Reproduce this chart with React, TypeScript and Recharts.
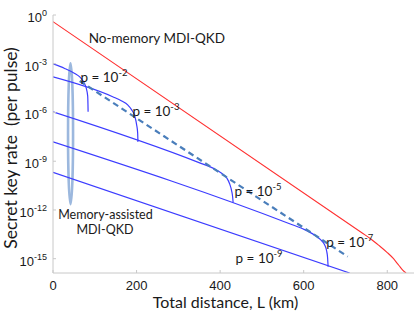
import React from 'react';
import { LineChart, Line, XAxis, YAxis, ReferenceDot, ReferenceArea, Label } from 'recharts';

// x: total distance L (km), y: log10 of secret key rate (per pulse)
const xTicks = [0, 200, 400, 600, 800];
const yTicks = [0, -3, -6, -9, -12, -15];

const noMemory = [
  { x: 0, y: -0.41 },
  { x: 740, y: -13.42 },
  { x: 760, y: -13.77 },
  { x: 780, y: -14.18 },
  { x: 800, y: -14.62 },
  { x: 815, y: -15.0 },
  { x: 828, y: -15.42 },
  { x: 837, y: -15.7 },
  { x: 845, y: -15.88 },
];

const p2 = [
  { x: 0, y: -3.01 },
  { x: 28, y: -3.29 },
  { x: 52, y: -3.6 },
  { x: 64, y: -3.81 },
  { x: 73.4, y: -4.12 },
  { x: 79.4, y: -4.49 },
  { x: 83, y: -4.98 },
  { x: 83.7, y: -5.53 },
  { x: 84, y: -5.96 },
];

const p3 = [
  { x: 0, y: -3.81 },
  { x: 142.8, y: -5.03 },
  { x: 164.4, y: -5.29 },
  { x: 178.7, y: -5.53 },
  { x: 188.3, y: -5.84 },
  { x: 195.5, y: -6.21 },
  { x: 200.2, y: -6.76 },
  { x: 202.6, y: -7.25 },
  { x: 203.3, y: -7.81 },
];

const p5 = [
  { x: 0, y: -5.96 },
  { x: 351, y: -9.1 },
  { x: 386.8, y: -9.47 },
  { x: 403.6, y: -9.74 },
  { x: 415.6, y: -10.02 },
  { x: 422.7, y: -10.39 },
  { x: 427.5, y: -10.82 },
  { x: 429.9, y: -11.19 },
  { x: 431.1, y: -11.55 },
];

const p7 = [
  { x: 0, y: -7.81 },
  { x: 566.3, y: -12.85 },
  { x: 602.2, y: -13.21 },
  { x: 626.1, y: -13.55 },
  { x: 640.4, y: -13.83 },
  { x: 650, y: -14.14 },
  { x: 654.8, y: -14.51 },
  { x: 657.2, y: -14.94 },
  { x: 658.4, y: -15.49 },
];

const p9 = [
  { x: 0, y: -9.68 },
  { x: 710, y: -15.88 },
];

const envelope = [
  { x: 63.9, y: -4.06 },
  { x: 705.3, y: -14.87 },
];

// memory-assisted marker ellipse (x range km, y range log10)
const markerX = [36, 48];
const markerY = [-11.65, -2.98];

// annotation texts: [x km, y log10, text, superscript]
const notes: [number, number, string, string][] = [
  [85.4, -1.72, 'No-memory MDI-QKD', ''],
  [65.6, -4.1, 'p = 10', '-2'],
  [190, -6.24, 'p = 10', '-3'],
  [434.2, -11.15, 'p = 10', '-5'],
  [654, -14.3, 'p = 10', '-7'],
  [437, -15.24, 'p = 10', '-9'],
];
const centeredNotes: [number, number, string][] = [
  [125.6, -12.57, 'Memory-assisted'],
  [124.5, -13.46, 'MDI-QKD'],
];

const ANNOT_FONT = 'Lato, "Open Sans", sans-serif';
const TICK_FONT = '"Liberation Sans", Arial, sans-serif';
const BLUE = '#3c3cff';

const YTick = (props: any) => {
  const { x, y, payload } = props;
  return (
    <text x={x} y={y + 7} textAnchor="end" fontFamily={TICK_FONT} fontSize={13} fill="#1a1a1a">
      <tspan>10</tspan>
      <tspan dy={-6} fontSize={9}>{String(payload.value)}</tspan>
    </text>
  );
};

const XTick = (props: any) => {
  const { x, y, payload } = props;
  return (
    <text x={x} y={y + 9.5} textAnchor="middle" fontFamily={TICK_FONT} fontSize={13} fill="#1a1a1a">
      {payload.value}
    </text>
  );
};

export default function App() {
  return (
    <div style={{ position: 'absolute', left: 0, top: 0 }}>
      <LineChart width={414} height={315} margin={{ top: 15, right: 0, bottom: 0, left: 0 }}>
        <XAxis
          type="number"
          dataKey="x"
          domain={[0, 864]}
          ticks={xTicks}
          stroke="#c8c8c8"
          tickSize={-3}
          tickMargin={10}
          tick={<XTick />}
          height={42}
          allowDataOverflow
        >
          <Label
            content={(p: any) => {
              const vb = p.viewBox;
              return (
                <text
                  x={vb.x + vb.width / 2 - 8}
                  y={vb.y + 35}
                  textAnchor="middle"
                  fontFamily={ANNOT_FONT}
                  fontSize={16}
                  fill="#1a1a1a"
                >
                  Total distance, L (km)
                </text>
              );
            }}
          />
        </XAxis>
        <YAxis
          type="number"
          domain={[-15.88, 0]}
          ticks={yTicks}
          stroke="#c8c8c8"
          tickSize={-3}
          tickMargin={9}
          tick={<YTick />}
          width={53}
          allowDataOverflow
        >
          <Label
            content={(p: any) => {
              const vb = p.viewBox;
              const cx = vb.x + 17;
              const cy = vb.y + vb.height / 2 + 4;
              return (
                <text
                  x={cx}
                  y={cy}
                  transform={`rotate(-90, ${cx}, ${cy})`}
                  textAnchor="middle"
                  fontFamily={ANNOT_FONT}
                  fontSize={17.5}
                  fill="#1a1a1a"
                  style={{ whiteSpace: 'pre' }}
                >
                  {'Secret key rate  (per pulse)'}
                </text>
              );
            }}
          />
        </YAxis>
        <ReferenceArea
          x1={markerX[0]}
          x2={markerX[1]}
          y1={markerY[0]}
          y2={markerY[1]}
          shape={(p: any) => (
            <ellipse
              cx={p.x + p.width / 2}
              cy={p.y + p.height / 2}
              rx={p.width / 2}
              ry={p.height / 2}
              fill="none"
              stroke="#9cb8de"
              strokeWidth={2.6}
            />
          )}
        />
        <Line data={noMemory} dataKey="y" stroke="#ff3030" strokeWidth={1.1} dot={false} activeDot={false} isAnimationActive={false} type="monotone" />
        <Line data={p2} dataKey="y" stroke={BLUE} strokeWidth={1.2} dot={false} activeDot={false} isAnimationActive={false} type="monotone" />
        <Line data={p3} dataKey="y" stroke={BLUE} strokeWidth={1.2} dot={false} activeDot={false} isAnimationActive={false} type="monotone" />
        <Line data={p5} dataKey="y" stroke={BLUE} strokeWidth={1.2} dot={false} activeDot={false} isAnimationActive={false} type="monotone" />
        <Line data={p7} dataKey="y" stroke={BLUE} strokeWidth={1.2} dot={false} activeDot={false} isAnimationActive={false} type="monotone" />
        <Line data={p9} dataKey="y" stroke={BLUE} strokeWidth={1.2} dot={false} activeDot={false} isAnimationActive={false} type="linear" />
        <Line data={envelope} dataKey="y" stroke="#4a7ebb" strokeWidth={2.2} strokeDasharray="6 4" dot={false} activeDot={false} isAnimationActive={false} type="linear" />
        {notes.map(([x, y, t, sup], i) => (
          <ReferenceDot
            key={'n' + i}
            x={x}
            y={y}
            r={0}
            shape={(p: any) => (
              <text x={p.cx} y={p.cy} fontFamily={ANNOT_FONT} fontSize={13.5} fill="#1a1a1a">
                <tspan>{t}</tspan>
                {sup ? (
                  <tspan dy={-6} fontSize={9.5}>
                    {sup}
                  </tspan>
                ) : null}
              </text>
            )}
          />
        ))}
        {centeredNotes.map(([x, y, t], i) => (
          <ReferenceDot
            key={'c' + i}
            x={x}
            y={y}
            r={0}
            shape={(p: any) => (
              <text x={p.cx} y={p.cy} textAnchor="middle" fontFamily={ANNOT_FONT} fontSize={12.5} fill="#1a1a1a">
                {t}
              </text>
            )}
          />
        ))}
      </LineChart>
    </div>
  );
}
